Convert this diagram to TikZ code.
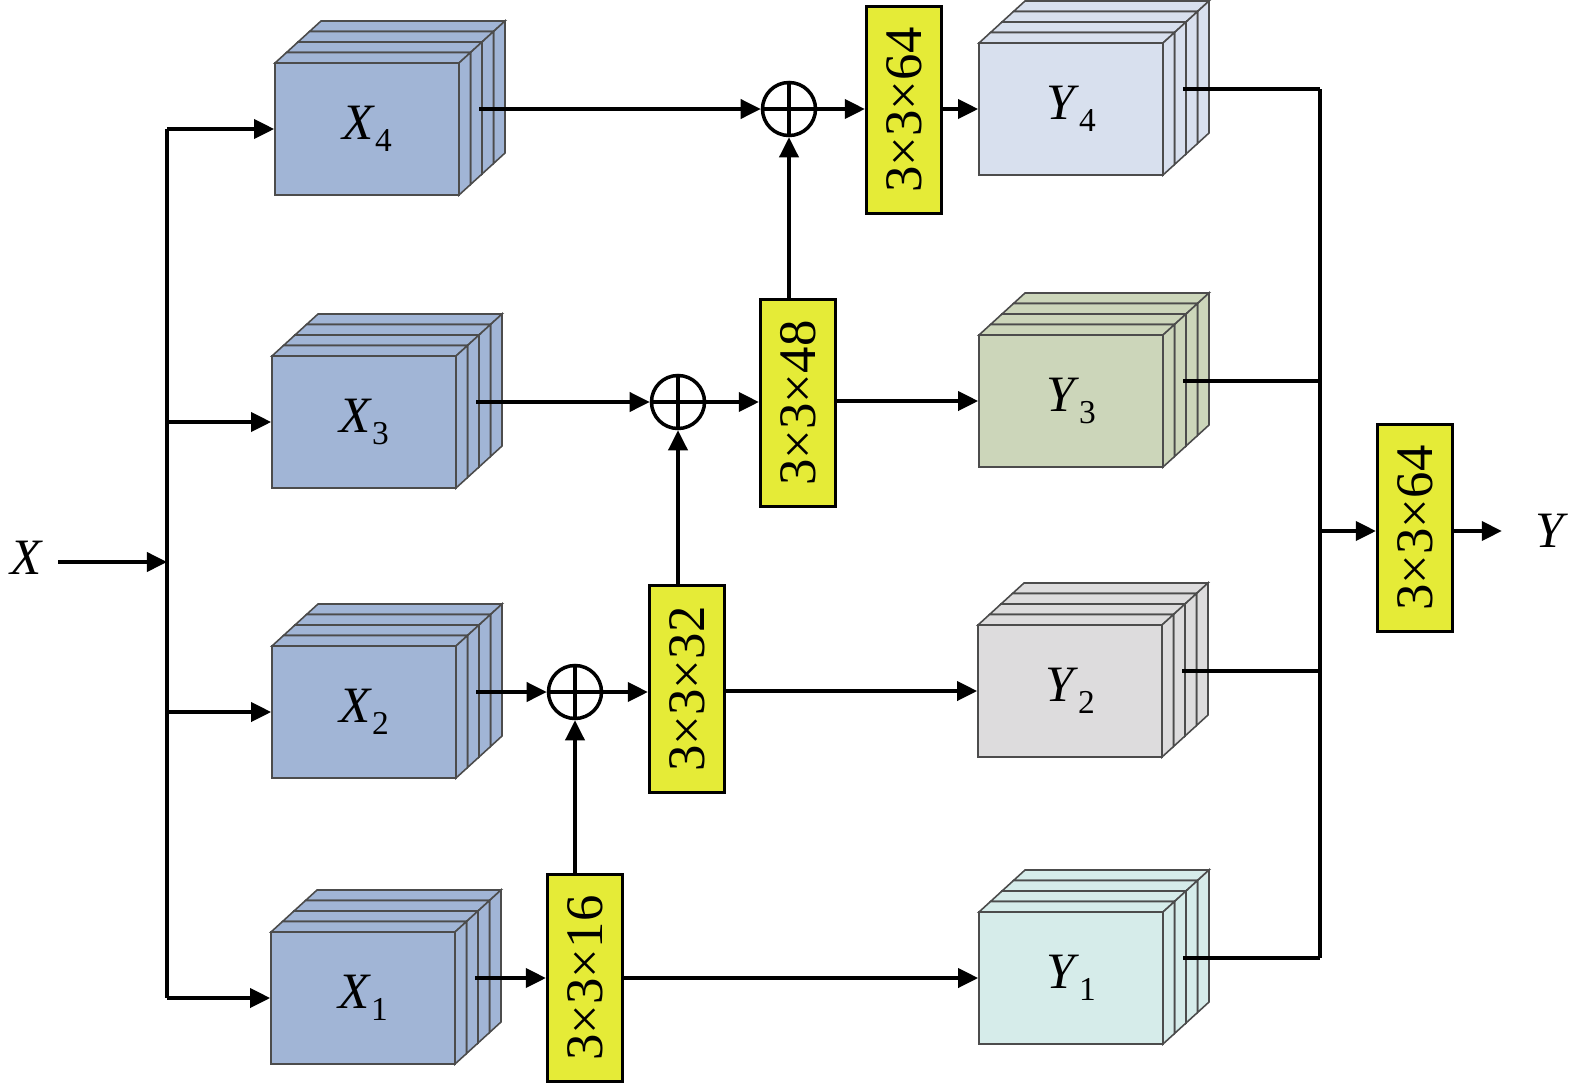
\documentclass[tikz,border=0pt]{standalone}
\usepackage{fontspec}
\setmainfont{Liberation Serif}
\usepackage{graphicx}
\usetikzlibrary{arrows.meta, calc}
\definecolor{fmapBlue}{HTML}{A1B5D6}
\definecolor{outBlue}{HTML}{D8E0EE}
\definecolor{outGreen}{HTML}{CCD6BA}
\definecolor{outGray}{HTML}{DDDCDD}
\definecolor{outCyan}{HTML}{D6ECEA}
\definecolor{convYellow}{HTML}{E5EB37}
\newcommand{\lbl}[2]{\textit{#1}\raisebox{-3.5pt}{\fontsize{9.5}{10}\selectfont #2}}
\newcommand{\fmap}[5]{%
  \foreach \k in {3,2,1,0}{
    \begin{scope}[shift={({#2+\k*11.5},{#3-\k*10.5})}]
      \filldraw[fmapedge, fill=#4] (-92,-66) rectangle (92,66);
      \filldraw[fmapedge, fill=#4] (-92,-66) -- (-80.5,-76.5) -- (103.5,-76.5) -- (92,-66) -- cycle;
      \filldraw[fmapedge, fill=#4] (92,-66) -- (103.5,-76.5) -- (103.5,55.5) -- (92,66) -- cycle;
    \end{scope}}
  \node[fmap, fill=#4] (#1) at (#2,#3) {#5};
  \coordinate (#1o) at ({#2+112},{#3-20});
}

\begin{document}
\begin{tikzpicture}[x=0.01cm, y=-0.01cm,
    fmap/.style={rectangle, draw=black!70, line width=0.45pt, minimum width=1.84cm, minimum height=1.32cm,
      font=\rmfamily\fontsize{14.5}{16}\selectfont},
    fmapedge/.style={draw=black!70, line width=0.45pt},
    conv/.style={rectangle, draw, line width=0.9pt, fill=convYellow, minimum width=0.75cm, minimum height=2.07cm,
      inner sep=0pt, font=\rmfamily\fontsize{15}{16}\selectfont},
    sumnode/.style={circle, draw, line width=1pt, minimum size=0.53cm, inner sep=0pt,
      path picture={\draw[line width=1pt] (path picture bounding box.north) -- (path picture bounding box.south)
        (path picture bounding box.west) -- (path picture bounding box.east);}},
    lab/.style={font=\rmfamily\fontsize{14.5}{16}\selectfont, inner sep=0pt},
    wire/.style={line width=1.1pt},
    arr/.style={-{Triangle[length=0.2cm, width=0.19cm]}, line width=1.05pt}
  ]
  \useasboundingbox (0,0) rectangle (1575,1084);

  \fmap{x4}{367}{129}{fmapBlue}{\lbl{X}{4}}
  \fmap{x3}{364}{422}{fmapBlue}{\lbl{X}{3}}
  \fmap{x2}{364}{712}{fmapBlue}{\lbl{X}{2}}
  \fmap{x1}{363}{998}{fmapBlue}{\lbl{X}{1}}
  \fmap{y4}{1071}{109}{outBlue}{\lbl{Y}{4}}
  \fmap{y3}{1071}{401}{outGreen}{\lbl{Y}{3}}
  \fmap{y2}{1070}{691}{outGray}{\lbl{Y}{2}}
  \fmap{y1}{1071}{978}{outCyan}{\lbl{Y}{1}}

  \node[conv] (c64) at (904,110) {\rotatebox{90}{3×3×64}};
  \node[conv] (c48) at (798,403) {\rotatebox{90}{3×3×48}};
  \node[conv] (c32) at (687,689) {\rotatebox{90}{3×3×32}};
  \node[conv] (c16) at (585,978) {\rotatebox{90}{3×3×16}};
  \node[conv] (cout) at (1415,528) {\rotatebox{90}{3×3×64}};

  \node[sumnode] (s4) at (789,109) {};
  \node[sumnode] (s3) at (678,402) {};
  \node[sumnode] (s2) at (575,692) {};

  \node[lab] (xin) at (27,558) {\textit{X}};
  \node[lab] (yout) at (1552,531) {\textit{Y}};
  \coordinate (lbus) at (167,562);
  \coordinate (rbus) at (1320,531);

  \draw[arr] (xin.east |- lbus) ++(14,0) -- (lbus);
  \draw[wire] (x4 -| lbus) -- (x1 -| lbus);
  \foreach \n in {x4,x3,x2,x1}
    \draw[arr] (\n -| lbus) -- (\n.west);

  \draw[arr] (x4o) -- (s4);
  \draw[arr] (s4) -- (s4 -| c64.west);
  \draw[arr] (c64.east |- y4) -- (y4.west);
  \draw[arr] (c48.north -| s4) -- (s4);
  \draw[arr] (x3o) -- (s3);
  \draw[arr] (s3) -- (s3 -| c48.west);
  \draw[arr] (c48.east |- y3) -- (y3.west);
  \draw[arr] (c32.north -| s3) -- (s3);
  \draw[arr] (x2o) -- (s2);
  \draw[arr] (s2) -- (s2 -| c32.west);
  \draw[arr] (c32.east |- y2) -- (y2.west);
  \draw[arr] (c16.north -| s2) -- (s2);
  \draw[arr] (x1o) -- (x1o -| c16.west);
  \draw[arr] (c16.east |- y1) -- (y1.west);

  \foreach \n in {y4,y3,y2,y1}
    \draw[line width=0.95pt] (\n o) -- (\n o -| rbus);
  \draw[wire] (y4o -| rbus) -- (y1o -| rbus);
  \draw[arr] (rbus) -- (rbus -| cout.west);
  \draw[arr, shorten >=0.33cm] (cout.east |- rbus) -- (yout.west);
\end{tikzpicture}
\end{document}
